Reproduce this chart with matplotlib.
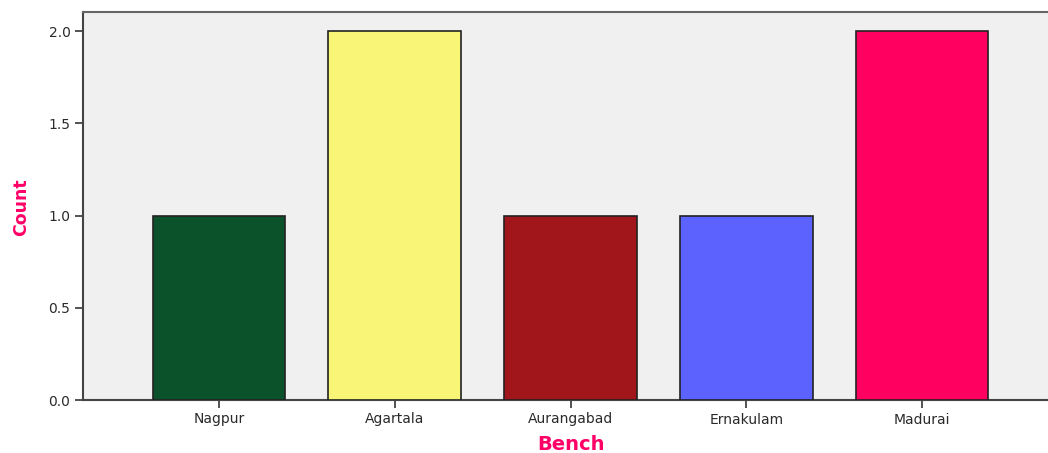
import matplotlib.pyplot as plt

# ── Data ───────────────────────────────────────────────────────────────────────
benches = ["Nagpur", "Agartala", "Aurangabad", "Ernakulam", "Madurai"]
counts = [1, 2, 1, 1, 2]
bar_colors = ["#0b522b", "#f9f677", "#a0161b", "#5c62fe", "#ff0060"]

W, H = 1048, 453
fig = plt.figure(figsize=(W / 100, H / 100), dpi=100)
ax = fig.add_axes([83 / W, (H - 400) / H, 1 - 83 / W, (400 - 12) / H])
ax.set_facecolor("#f0f0f0")

x = list(range(len(benches)))
ax.bar(x, counts, width=0.755, color=bar_colors, edgecolor="#222222",
       linewidth=1.2, zorder=3)

ax.set_xlim(-0.773, len(benches) - 1 + 0.716)
ax.set_ylim(0, 2.103)
ax.set_yticks([0, 0.5, 1.0, 1.5, 2.0])
ax.set_yticklabels(["0.0", "0.5", "1.0", "1.5", "2.0"])
ax.set_xticks(x)
ax.set_xticklabels(benches)

for lab in ax.get_xticklabels() + ax.get_yticklabels():
    lab.set_family(["DejaVu Sans"])
    lab.set_fontsize(10)
    lab.set_color("#2a2a2a")
ax.tick_params(axis="both", length=6, width=1.3, color="#444444", pad=3)

ax.spines["left"].set_color("#444444")
ax.spines["left"].set_linewidth(1.5)
ax.spines["bottom"].set_color("#444444")
ax.spines["bottom"].set_linewidth(1.5)
ax.spines["top"].set_color("#666666")
ax.spines["top"].set_linewidth(1.5)
ax.spines["right"].set_visible(False)

fig.text(21 / W, 1 - 207 / H, "Count", rotation=90, ha="center", va="center",
         fontsize=12.5, fontweight="bold", color="#ff0066",
         family=["DejaVu Sans"])
fig.text(571 / W, 1 - 444 / H, "Bench", ha="center", va="center",
         fontsize=14, fontweight="bold", color="#ff0066",
         family=["DejaVu Sans"])

plt.savefig("out.png", dpi=100)
